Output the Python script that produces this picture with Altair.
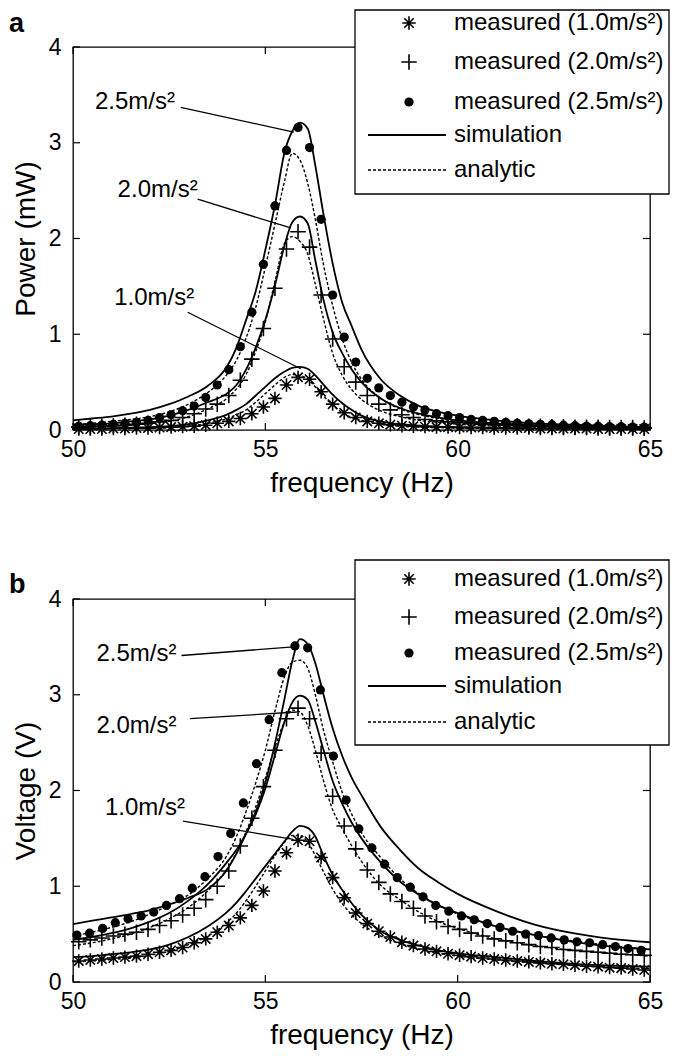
import altair as alt
import pandas as pd

FONT = "Liberation Sans"
W, H = 577, 383

# ---------------- shared x data ----------------
X_TICKS = [50, 55, 60, 65]
Y_TICKS = [0, 1, 2, 3, 4]
CURVE_F = [50, 50.5, 51, 51.5, 52, 52.5, 53, 53.5, 54, 54.25, 54.5, 54.75, 55, 55.25,
           55.5, 55.7, 55.9, 56.1, 56.3, 56.5, 56.75, 57, 57.25, 57.5, 58, 58.5, 59,
           59.5, 60, 61, 62, 63, 64, 65]
MEAS_F = [50.15, 50.45, 50.75, 51.05, 51.35, 51.65, 51.95, 52.25, 52.55, 52.85,
          53.15, 53.45, 53.75, 54.05, 54.35, 54.65, 54.95, 55.25, 55.55, 55.85,
          56.15, 56.45, 56.75, 57.05, 57.35, 57.65, 57.95, 58.25, 58.55, 58.85,
          59.15, 59.45, 59.75, 60.05, 60.35, 60.65, 60.95, 61.25, 61.55, 61.85,
          62.15, 62.45, 62.75, 63.05, 63.35, 63.65, 63.95, 64.25, 64.55, 64.85]
MEAS_F_DOT_B = [50.10, 50.43, 50.77, 51.10, 51.43, 51.77, 52.10, 52.43, 52.77, 53.10,
                53.43, 53.77, 54.10, 54.43, 54.77, 55.10, 55.43, 55.77, 56.10, 56.43,
                56.77, 57.10, 57.43, 57.77, 58.10, 58.43, 58.77, 59.10, 59.43, 59.77,
                60.10, 60.43, 60.77, 61.10, 61.43, 61.77, 62.10, 62.43, 62.77, 63.10,
                63.43, 63.77, 64.10, 64.43, 64.77]

# ---------------- panel a: power (mW) ----------------
P_SIM_25 = [0.10, 0.12, 0.14, 0.17, 0.21, 0.27, 0.35, 0.46, 0.66, 0.86, 1.15, 1.45, 1.88, 2.35,
            2.90, 3.12, 3.21, 3.15, 2.76, 2.28, 1.74, 1.33, 1.08, 0.84, 0.53, 0.36, 0.25,
            0.19, 0.15, 0.10, 0.07, 0.055, 0.04, 0.03]
P_ANA_25 = [0.06, 0.07, 0.09, 0.11, 0.14, 0.19, 0.27, 0.39, 0.58, 0.73, 0.96, 1.28, 1.70, 2.15,
            2.60, 2.89, 2.82, 2.58, 2.20, 1.75, 1.30, 0.95, 0.70, 0.53, 0.33, 0.22, 0.16,
            0.12, 0.09, 0.06, 0.045, 0.035, 0.03, 0.025]
P_SIM_20 = [0.05, 0.06, 0.07, 0.09, 0.11, 0.15, 0.21, 0.29, 0.38, 0.47, 0.63, 0.86, 1.15, 1.51,
            1.93, 2.17, 2.23, 2.16, 1.77, 1.38, 1.02, 0.80, 0.63, 0.50, 0.33, 0.23, 0.17,
            0.13, 0.10, 0.07, 0.05, 0.04, 0.03, 0.025]
P_ANA_20 = [0.03, 0.035, 0.04, 0.05, 0.07, 0.09, 0.14, 0.22, 0.33, 0.43, 0.58, 0.82, 1.13, 1.55,
            1.95, 2.02, 1.97, 1.84, 1.52, 1.18, 0.80, 0.57, 0.42, 0.32, 0.20, 0.14, 0.10,
            0.08, 0.06, 0.04, 0.03, 0.025, 0.02, 0.02]
P_SIM_10 = [0.01, 0.015, 0.02, 0.025, 0.03, 0.04, 0.06, 0.10, 0.16, 0.21, 0.27, 0.36, 0.45, 0.54,
            0.61, 0.65, 0.66, 0.64, 0.57, 0.48, 0.37, 0.28, 0.21, 0.15, 0.09, 0.06, 0.045,
            0.035, 0.03, 0.02, 0.015, 0.012, 0.01, 0.01]
P_ANA_10 = [0.008, 0.01, 0.012, 0.015, 0.02, 0.025, 0.04, 0.07, 0.12, 0.16, 0.21, 0.29, 0.38, 0.47,
            0.55, 0.58, 0.57, 0.53, 0.45, 0.36, 0.26, 0.18, 0.13, 0.10, 0.06, 0.04, 0.03,
            0.025, 0.02, 0.015, 0.01, 0.01, 0.008, 0.008]
P_MEAS_10 = [0.01, 0.01, 0.01, 0.015, 0.015, 0.02, 0.02, 0.025, 0.03, 0.035,
             0.04, 0.05, 0.07, 0.09, 0.12, 0.17, 0.24, 0.33, 0.47, 0.55,
             0.53, 0.40, 0.27, 0.18, 0.13, 0.09, 0.07, 0.055, 0.045, 0.04,
             0.035, 0.03, 0.03, 0.025, 0.025, 0.025, 0.02, 0.02, 0.02, 0.02,
             0.015, 0.015, 0.015, 0.015, 0.015, 0.01, 0.01, 0.01, 0.01, 0.01]
P_MEAS_20 = [0.03, 0.035, 0.04, 0.045, 0.05, 0.06, 0.07, 0.085, 0.10, 0.13,
             0.17, 0.22, 0.27, 0.36, 0.52, 0.74, 1.06, 1.48, 1.89, 2.07,
             1.91, 1.41, 0.95, 0.66, 0.50, 0.36, 0.27, 0.21, 0.16, 0.13,
             0.11, 0.095, 0.085, 0.075, 0.065, 0.06, 0.055, 0.05, 0.045, 0.04,
             0.04, 0.035, 0.035, 0.03, 0.03, 0.03, 0.025, 0.025, 0.025, 0.02]
P_MEAS_25 = [0.04, 0.045, 0.05, 0.06, 0.07, 0.08, 0.10, 0.13, 0.16, 0.20,
             0.25, 0.34, 0.47, 0.63, 0.87, 1.23, 1.73, 2.34, 2.92, 3.16,
             2.95, 2.20, 1.41, 0.97, 0.71, 0.54, 0.44, 0.36, 0.29, 0.24,
             0.21, 0.17, 0.15, 0.13, 0.11, 0.10, 0.09, 0.08, 0.07, 0.065,
             0.06, 0.055, 0.05, 0.045, 0.04, 0.04, 0.035, 0.035, 0.03, 0.03]

# ---------------- panel b: voltage (V) ----------------
V_SIM_25 = [0.605, 0.64, 0.675, 0.71, 0.75, 0.81, 0.88, 0.97, 1.17, 1.34, 1.55, 1.78, 2.08, 2.49,
            2.96, 3.35, 3.58, 3.53, 3.33, 3.02, 2.65, 2.36, 2.13, 1.95, 1.62, 1.38, 1.18,
            1.04, 0.92, 0.74, 0.60, 0.51, 0.45, 0.415]
V_ANA_25 = [0.48, 0.52, 0.57, 0.63, 0.71, 0.80, 0.91, 1.08, 1.32, 1.52, 1.78, 2.08, 2.42, 2.83,
            3.19, 3.34, 3.36, 3.28, 3.00, 2.65, 2.30, 1.98, 1.75, 1.56, 1.30, 1.08, 0.92,
            0.80, 0.71, 0.58, 0.49, 0.43, 0.38, 0.34]
V_SIM_20 = [0.44, 0.47, 0.51, 0.56, 0.63, 0.72, 0.85, 1.02, 1.25, 1.38, 1.55, 1.75, 2.02, 2.37,
            2.72, 2.92, 2.99, 2.95, 2.72, 2.44, 2.10, 1.86, 1.66, 1.50, 1.25, 1.05, 0.91,
            0.80, 0.72, 0.58, 0.49, 0.42, 0.37, 0.34]
V_ANA_20 = [0.38, 0.41, 0.45, 0.50, 0.57, 0.66, 0.78, 0.95, 1.18, 1.35, 1.57, 1.83, 2.13, 2.45,
            2.72, 2.84, 2.82, 2.68, 2.42, 2.12, 1.80, 1.60, 1.42, 1.26, 1.01, 0.86, 0.73,
            0.63, 0.56, 0.45, 0.38, 0.33, 0.30, 0.27]
V_SIM_10 = [0.26, 0.27, 0.29, 0.31, 0.34, 0.39, 0.47, 0.58, 0.73, 0.83, 0.95, 1.08, 1.21, 1.34,
            1.47, 1.57, 1.63, 1.61, 1.52, 1.33, 1.12, 0.96, 0.82, 0.70, 0.53, 0.44, 0.38,
            0.33, 0.30, 0.26, 0.22, 0.19, 0.17, 0.16]
V_ANA_10 = [0.21, 0.22, 0.235, 0.25, 0.28, 0.32, 0.39, 0.48, 0.62, 0.72, 0.85, 1.00, 1.16, 1.32,
            1.46, 1.53, 1.53, 1.46, 1.32, 1.16, 0.97, 0.82, 0.70, 0.61, 0.48, 0.40, 0.34,
            0.30, 0.27, 0.23, 0.20, 0.175, 0.155, 0.14]
V_MEAS_10 = [0.22, 0.23, 0.24, 0.25, 0.26, 0.27, 0.29, 0.31, 0.33, 0.36,
             0.41, 0.45, 0.52, 0.59, 0.67, 0.80, 0.95, 1.16, 1.35, 1.48,
             1.47, 1.30, 1.09, 0.88, 0.72, 0.61, 0.53, 0.47, 0.415, 0.38,
             0.345, 0.32, 0.295, 0.28, 0.265, 0.25, 0.24, 0.23, 0.22, 0.21,
             0.20, 0.19, 0.185, 0.175, 0.165, 0.16, 0.15, 0.145, 0.135, 0.125]
V_MEAS_20 = [0.42, 0.44, 0.46, 0.48, 0.50, 0.52, 0.55, 0.59, 0.64, 0.70,
             0.77, 0.86, 1.00, 1.16, 1.42, 1.71, 2.04, 2.42, 2.75, 2.86,
             2.75, 2.39, 1.94, 1.63, 1.39, 1.17, 1.04, 0.92, 0.84, 0.77,
             0.69, 0.63, 0.58, 0.55, 0.51, 0.48, 0.45, 0.43, 0.41, 0.39,
             0.37, 0.36, 0.34, 0.33, 0.32, 0.31, 0.30, 0.29, 0.285, 0.28]
V_MEAS_25 = [0.49, 0.51, 0.56, 0.62, 0.66, 0.69, 0.73, 0.80, 0.87, 0.98,
             1.10, 1.31, 1.55, 1.87, 2.28, 2.74, 3.23, 3.51, 3.49, 3.05,
             2.36, 1.90, 1.60, 1.40, 1.23, 1.09, 0.99, 0.89, 0.80, 0.74,
             0.69, 0.65, 0.61, 0.57, 0.53, 0.50, 0.485, 0.46, 0.44, 0.42,
             0.41, 0.39, 0.37, 0.35, 0.33]

# ---------------- annotations ----------------
ANN_LABELS = ["2.5m/s²", "2.0m/s²", "1.0m/s²"]
ANN_A_F = [50.57, 51.16, 51.07]
ANN_A_V = [3.43, 2.51, 1.38]
LEAD_A = [(52.80, 3.37, 55.74, 3.11), (53.24, 2.41, 55.66, 2.11), (52.98, 1.23, 55.92, 0.64)]
ANN_B_F = [50.61, 50.61, 50.83]
ANN_B_V = [3.43, 2.67, 1.82]
LEAD_B = [(52.82, 3.41, 55.73, 3.50), (53.04, 2.75, 55.82, 2.82), (52.86, 1.68, 55.73, 1.49)]

LEGEND_LABELS = ["measured (1.0m/s²)", "measured (2.0m/s²)", "measured (2.5m/s²)",
                 "simulation", "analytic"]
PANEL_LABELS = ["a", "b"]
Y_TITLES = ["Power (mW)", "Voltage (V)"]
X_TITLE = "frequency (Hz)"

ASTERISK = "M-1,0L1,0M0,-1L0,1M-0.7,-0.7L0.7,0.7M-0.7,0.7L0.7,-0.7"
PLUS = "M-1,0L1,0M0,-1L0,1"

xs = alt.Scale(domain=[50, 65], nice=False, zero=False)
ys = alt.Scale(domain=[0, 4], nice=False, zero=False)

AST_SIZE, PLUS_SIZE, DOT_SIZE = 180, 240, 85
MARK_SW = 1.6


def long_df(freqs, series):
    rows = []
    for name, vals in series.items():
        for f, v in zip(freqs, vals):
            rows.append({"f": f, "v": v, "s": name})
    return pd.DataFrame(rows)


def panel(sim, ana, m10, m20, m25, f25, ytitle, ann_f, ann_v, leads, plabel,
          box_y0, box_y1, rows_y):
    x_axis = alt.Axis(values=X_TICKS, title=X_TITLE, labelFlush=False,
                      labelPadding=8, titlePadding=8, format="d")
    y_axis = alt.Axis(values=Y_TICKS, title=ytitle, labelPadding=12,
                      titlePadding=8, format="d")

    def XQ(field):
        return alt.X(field, type="quantitative", scale=xs, axis=x_axis, title=X_TITLE)

    def YQ(field):
        return alt.Y(field, type="quantitative", scale=ys, axis=y_axis, title=ytitle)

    sim_df = long_df(CURVE_F, sim)
    ana_df = long_df(CURVE_F, ana)
    sim_l = alt.Chart(sim_df).mark_line(color="black", strokeWidth=1.8,
                                        interpolate="monotone").encode(
        x=XQ("f"), y=YQ("v"), detail="s:N")
    ana_l = alt.Chart(ana_df).mark_line(color="black", strokeWidth=1.4, strokeDash=[3, 2],
                                        interpolate="monotone").encode(
        x=XQ("f"), y=YQ("v"), detail="s:N")

    d10 = pd.DataFrame({"f": MEAS_F, "v": m10})
    d20 = pd.DataFrame({"f": MEAS_F, "v": m20})
    d25 = pd.DataFrame({"f": f25, "v": m25})
    p10 = alt.Chart(d10).mark_point(shape=ASTERISK, filled=False, color="black", size=AST_SIZE,
                                    strokeWidth=MARK_SW, opacity=1).encode(x=XQ("f"), y=YQ("v"))
    p20 = alt.Chart(d20).mark_point(shape=PLUS, filled=False, color="black", size=PLUS_SIZE,
                                    strokeWidth=MARK_SW, opacity=1).encode(x=XQ("f"), y=YQ("v"))
    p25 = alt.Chart(d25).mark_circle(color="black", size=DOT_SIZE, opacity=1).encode(
        x=XQ("f"), y=YQ("v"))

    xt = pd.DataFrame({"f": X_TICKS})
    yt = pd.DataFrame({"v": Y_TICKS})
    tk = [
        alt.Chart(xt).mark_rule(color="black", strokeWidth=1.2).encode(x=XQ("f"), y=alt.value(H), y2=alt.value(H - 7)),
        alt.Chart(xt).mark_rule(color="black", strokeWidth=1.2).encode(x=XQ("f"), y=alt.value(0), y2=alt.value(7)),
        alt.Chart(yt).mark_rule(color="black", strokeWidth=1.2).encode(y=YQ("v"), x=alt.value(0), x2=alt.value(7)),
        alt.Chart(yt).mark_rule(color="black", strokeWidth=1.2).encode(y=YQ("v"), x=alt.value(W), x2=alt.value(W - 7)),
    ]

    ann_df = pd.DataFrame({"f": ann_f, "v": ann_v, "label": ANN_LABELS})
    ann = alt.Chart(ann_df).mark_text(align="left", baseline="middle", font=FONT, fontSize=24,
                                      color="black").encode(x=XQ("f"), y=YQ("v"), text="label:N")
    lead_df = pd.DataFrame([(a, b, c, d) for a, b, c, d in leads], columns=["f", "v", "f2", "v2"])
    lead = alt.Chart(lead_df).mark_rule(color="black", strokeWidth=1.3).encode(
        x=XQ("f"), y=YQ("v"), x2="f2:Q", y2="v2:Q")

    # legend (drawn by hand)
    one = pd.DataFrame({"k": [0]})
    bx0, bx1 = 282, 596
    mx, tx0, lx0, lx1 = 336, 381, 295, 373
    leg = [alt.Chart(one).mark_rect(fill="white", stroke="black", strokeWidth=1.3).encode(
        x=alt.value(bx0), x2=alt.value(bx1), y=alt.value(box_y0), y2=alt.value(box_y1))]
    leg.append(alt.Chart(one).mark_point(shape=ASTERISK, filled=False, color="black", size=AST_SIZE,
                                         strokeWidth=MARK_SW, opacity=1).encode(
        x=alt.value(mx), y=alt.value(rows_y[0])))
    leg.append(alt.Chart(one).mark_point(shape=PLUS, filled=False, color="black", size=PLUS_SIZE,
                                         strokeWidth=MARK_SW, opacity=1).encode(
        x=alt.value(mx), y=alt.value(rows_y[1])))
    leg.append(alt.Chart(one).mark_circle(color="black", size=DOT_SIZE, opacity=1).encode(
        x=alt.value(mx), y=alt.value(rows_y[2])))
    leg.append(alt.Chart(one).mark_rule(color="black", strokeWidth=1.8).encode(
        x=alt.value(lx0), x2=alt.value(lx1), y=alt.value(rows_y[3])))
    leg.append(alt.Chart(one).mark_rule(color="black", strokeWidth=1.4, strokeDash=[3, 2]).encode(
        x=alt.value(lx0), x2=alt.value(lx1), y=alt.value(rows_y[4])))
    for lab, ry in zip(LEGEND_LABELS, rows_y):
        ldf = pd.DataFrame({"label": [lab]})
        leg.append(alt.Chart(ldf).mark_text(align="left", baseline="middle", font=FONT, fontSize=24,
                                            color="black").encode(
            x=alt.value(tx0), y=alt.value(ry), text="label:N"))

    pl = alt.Chart(pd.DataFrame({"label": [plabel]})).mark_text(
        align="left", baseline="middle", font=FONT, fontSize=27, fontWeight="bold", color="black"
    ).encode(x=alt.value(-64), y=alt.value(-23 if plabel == "a" else -14), text="label:N")

    return alt.layer(sim_l, ana_l, p10, p20, p25, *tk, lead, ann, *leg, pl).properties(
        width=W, height=H)


top = panel({"s25": P_SIM_25, "s20": P_SIM_20, "s10": P_SIM_10},
            {"a25": P_ANA_25, "a20": P_ANA_20, "a10": P_ANA_10},
            P_MEAS_10, P_MEAS_20, P_MEAS_25, MEAS_F, Y_TITLES[0],
            ANN_A_F, ANN_A_V, LEAD_A, PANEL_LABELS[0], -37, 147, [-24, 15, 55, 88, 123])
bottom = panel({"s25": V_SIM_25, "s20": V_SIM_20, "s10": V_SIM_10},
               {"a25": V_ANA_25, "a20": V_ANA_20, "a10": V_ANA_10},
               V_MEAS_10, V_MEAS_20, V_MEAS_25, MEAS_F_DOT_B, Y_TITLES[1],
               ANN_B_F, ANN_B_V, LEAD_B, PANEL_LABELS[1], -39, 146, [-20, 18, 54, 87, 123])

chart = alt.vconcat(top, bottom, spacing=169, bounds="flush").properties(
    padding={"left": 0, "top": 0, "right": 0, "bottom": 0}
).configure_view(stroke="black", strokeWidth=1.3).configure_axis(
    grid=False, ticks=False, domain=False, labelFont=FONT, titleFont=FONT, labelFontSize=23,
    titleFontSize=28, titleFontWeight="normal", labelColor="black", titleColor="black"
)

chart.save("out.html", embed_options={"renderer": "svg", "actions": False})
